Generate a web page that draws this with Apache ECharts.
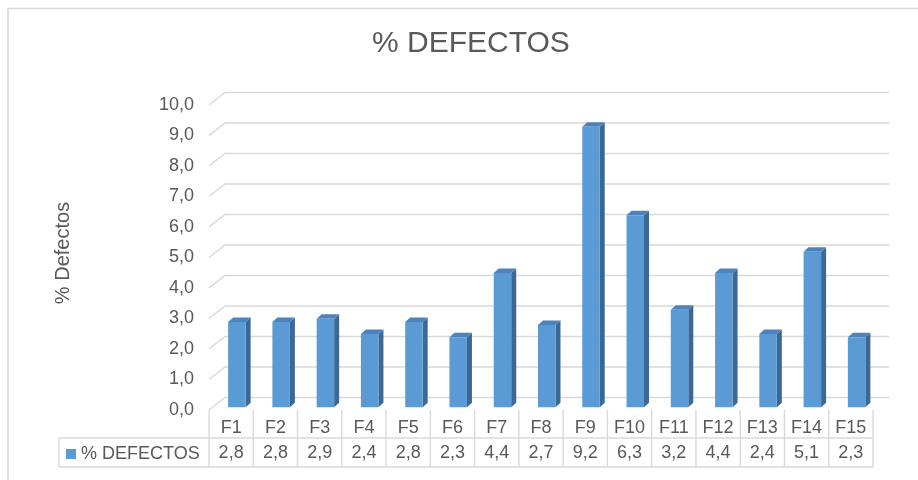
<!DOCTYPE html>
<html>
<head>
<meta charset="utf-8">
<script src="https://cdn.jsdelivr.net/npm/echarts@6/dist/echarts.min.js"></script>
<style>
  html, body { margin: 0; padding: 0; background: #ffffff; }
  #chart { width: 918px; height: 480px; }
</style>
</head>
<body>
<div id="chart"></div>
<script>
// Defect percentage per line F1..F15
const categories = ['F1', 'F2', 'F3', 'F4', 'F5', 'F6', 'F7', 'F8', 'F9', 'F10', 'F11', 'F12', 'F13', 'F14', 'F15'];
const defectPct = [2.8, 2.8, 2.9, 2.4, 2.8, 2.3, 4.4, 2.7, 9.2, 6.3, 3.2, 4.4, 2.4, 5.1, 2.3];
const yTicks = [0, 1, 2, 3, 4, 5, 6, 7, 8, 9, 10];
const seriesName = '% DEFECTOS';
const axisTitle = '% Defectos';

const FONT = '"Liberation Sans", Arial, sans-serif';
const TEXT = '#595959';
const LINE = '#d9d9d9';
const FRONT = '#5b9bd5';
const TOP = '#4d83bb';
const SIDE = '#3b6894';

// depth of the 3D floor/back wall and of each column
const WALL_DX = 16, WALL_DY = -12.5;
const BAR_DX = 5, BAR_DY = -4.5;
const BAR_SHIFT = 2.7;     // columns sit slightly behind the front edge
const ROW_H = 28, TABLE_H = 57, LEGEND_CELL_W = 150;

const fmt = v => v.toFixed(1).replace('.', ',');

const chart = echarts.init(document.getElementById('chart'));

chart.setOption({
  animation: false,
  backgroundColor: '#ffffff',
  textStyle: { fontFamily: FONT },
  title: {
    text: seriesName,
    left: 372,
    top: 29,
    padding: 0,
    textStyle: { fontFamily: FONT, fontSize: 30, fontWeight: 'normal', color: TEXT }
  },
  legend: {
    data: [seriesName],
    left: 66,
    top: 445,
    padding: 0,
    icon: 'rect',
    itemWidth: 10,
    itemHeight: 10,
    textStyle: { fontFamily: FONT, fontSize: 18, color: TEXT }
  },
  grid: { left: 209, right: 45, top: 105, bottom: 70 },
  xAxis: {
    type: 'category',
    data: categories,
    axisLine: { show: false },
    axisTick: { show: false },
    splitLine: { show: false },
    axisLabel: {
      interval: 0,
      margin: 6,
      formatter: (val, idx) => '{c|' + val + '}\n{v|' + fmt(defectPct[idx]) + '}',
      rich: {
        c: { fontFamily: FONT, fontSize: 18, color: TEXT, lineHeight: 25 },
        v: { fontFamily: FONT, fontSize: 18, color: TEXT, lineHeight: 25 }
      }
    }
  },
  yAxis: {
    type: 'value',
    min: 0,
    max: 10,
    interval: 1,
    axisLine: { show: false },
    axisTick: { show: false },
    splitLine: { show: false },
    axisLabel: {
      margin: 15,
      fontFamily: FONT,
      fontSize: 18,
      color: TEXT,
      formatter: v => fmt(v)
    }
  },
  graphic: [
    {
      type: 'rect',
      shape: { x: 8, y: 8.5, width: 960, height: 520 },
      style: { fill: 'none', stroke: LINE, lineWidth: 1.6 },
      silent: true
    },
    {
      type: 'text',
      x: 63.5,
      y: 253,
      rotation: Math.PI / 2,
      style: {
        text: axisTitle,
        fontFamily: FONT,
        fontSize: 20,
        fill: TEXT,
        align: 'center',
        verticalAlign: 'middle'
      }
    }
  ],
  series: [
    {
      // floor and back-wall gridlines, one polyline per tick value
      type: 'custom',
      name: 'grid',
      silent: true,
      z: 1,
      data: yTicks.map(v => [0, v]),
      encode: { x: 0, y: 1 },
      renderItem: (params, api) => {
        const v = api.value(1);
        const band = api.size([1, 0])[0];
        const left = api.coord([0, v]);
        const right = api.coord([categories.length - 1, v]);
        const xl = left[0] - band / 2;
        const xr = right[0] + band / 2;
        const y = left[1];
        return {
          type: 'polyline',
          shape: { points: [[xl, y], [xl + WALL_DX, y + WALL_DY], [xr + WALL_DX, y + WALL_DY]] },
          style: { stroke: LINE, lineWidth: 1.5, fill: 'none' }
        };
      }
    },
    {
      // data table grid under the categories
      type: 'custom',
      name: 'table',
      silent: true,
      z: 1,
      data: categories.map((c, i) => [i, 0]),
      encode: { x: 0, y: 1 },
      renderItem: (params, api) => {
        const i = api.value(0);
        const band = api.size([1, 0])[0];
        const p = api.coord([i, 0]);
        const xl = p[0] - band / 2;
        const xr = p[0] + band / 2;
        const y0 = p[1];
        const st = { stroke: LINE, lineWidth: 1.4 };
        const kids = [
          { type: 'line', shape: { x1: xl, y1: y0, x2: xl, y2: y0 + TABLE_H }, style: st },
          { type: 'line', shape: { x1: xl, y1: y0 + ROW_H, x2: xr, y2: y0 + ROW_H }, style: st },
          { type: 'line', shape: { x1: xl, y1: y0 + TABLE_H, x2: xr, y2: y0 + TABLE_H }, style: st }
        ];
        if (i === categories.length - 1) {
          kids.push({ type: 'line', shape: { x1: xr, y1: y0, x2: xr, y2: y0 + TABLE_H }, style: st });
        }
        if (i === 0) {
          const lx = xl - LEGEND_CELL_W;
          kids.push({ type: 'line', shape: { x1: lx, y1: y0 + ROW_H, x2: xl, y2: y0 + ROW_H }, style: st });
          kids.push({ type: 'line', shape: { x1: lx, y1: y0 + TABLE_H, x2: xl, y2: y0 + TABLE_H }, style: st });
          kids.push({ type: 'line', shape: { x1: lx, y1: y0 + ROW_H, x2: lx, y2: y0 + TABLE_H }, style: st });
        }
        return { type: 'group', children: kids };
      }
    },
    {
      // 3D columns: front face, right side and top
      type: 'custom',
      name: seriesName,
      z: 3,
      itemStyle: { color: FRONT },
      data: defectPct.map((v, i) => [i, v]),
      encode: { x: 0, y: 1 },
      renderItem: (params, api) => {
        const i = api.value(0);
        const v = api.value(1);
        const band = api.size([1, 0])[0];
        const top = api.coord([i, v]);
        const base = api.coord([i, 0]);
        const w = band * 0.395;
        const x0 = top[0] - 3;
        const x1 = x0 + w;
        const yt = top[1] - BAR_SHIFT;
        const yb = base[1] - BAR_SHIFT;
        return {
          type: 'group',
          children: [
            {
              type: 'polygon',
              shape: { points: [[x1, yb], [x1, yt], [x1 + BAR_DX, yt + BAR_DY], [x1 + BAR_DX, yb + BAR_DY]] },
              style: { fill: SIDE }
            },
            {
              type: 'polygon',
              shape: { points: [[x0, yt], [x1, yt], [x1 + BAR_DX, yt + BAR_DY], [x0 + BAR_DX, yt + BAR_DY]] },
              style: { fill: TOP }
            },
            {
              type: 'rect',
              shape: { x: x0, y: yt, width: w, height: yb - yt },
              style: { fill: FRONT }
            }
          ]
        };
      }
    }
  ]
});
</script>
</body>
</html>
